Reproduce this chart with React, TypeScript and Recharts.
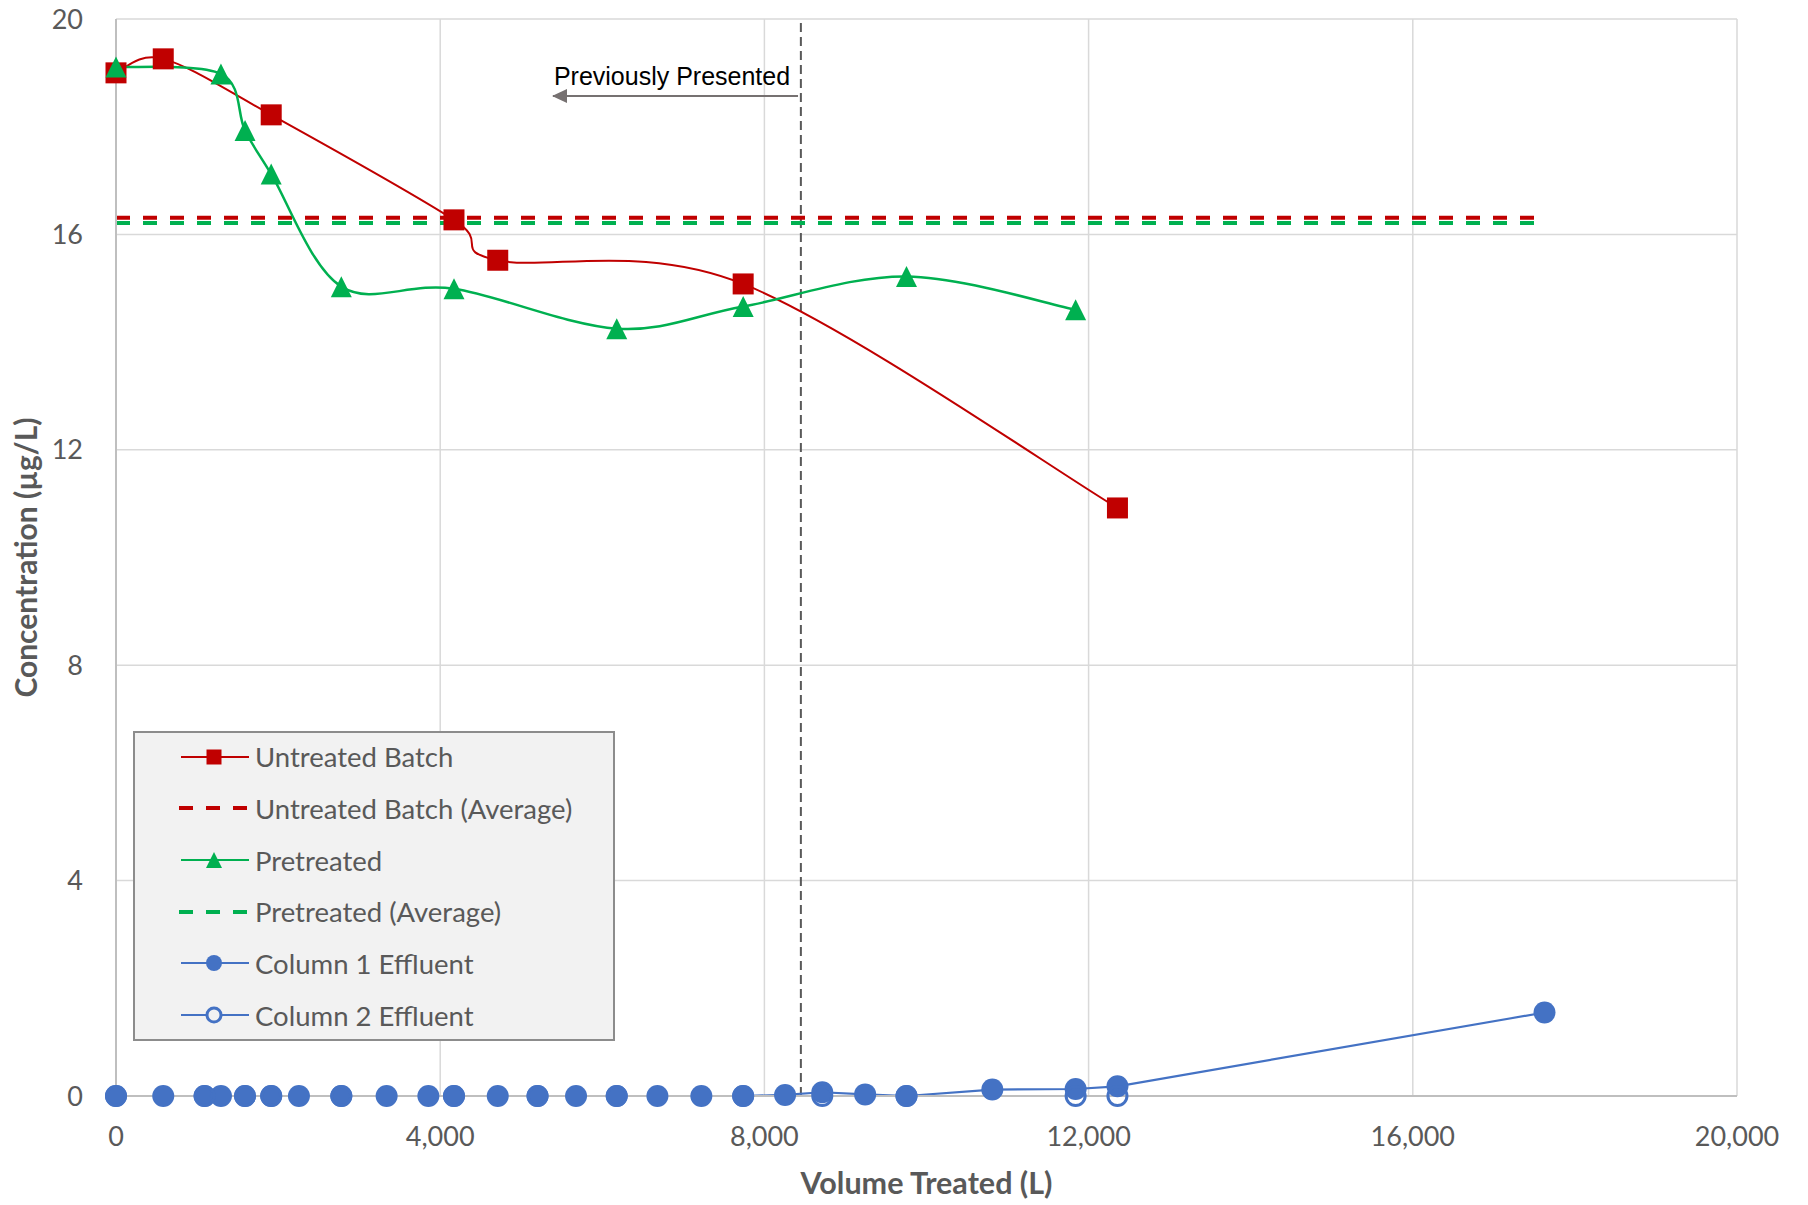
import React from "react"
import {
	ComposedChart,
	Line,
	XAxis,
	YAxis,
	CartesianGrid,
	ReferenceLine,
	ReferenceDot,
	Legend,
} from "recharts"

const RED = "#C00000"
const GREEN = "#00B050"
const BLUE = "#4472C4"
const TEXT = "#595959"
const GRID = "#D9D9D9"
const AXIS_LINE = "#BFBFBF"
const MARKER_GRAY = "#767171"
const FONT = "Lato, 'Noto Sans', sans-serif"

// volumes in L, concentrations in µg/L
const untreatedVolume = [0, 583, 1915, 4170, 4710, 7738, 12356]
const untreatedConc = [19.0, 19.26, 18.22, 16.27, 15.52, 15.08, 10.92]

const pretreatedVolume = [0, 1295, 1592, 1915, 2780, 4170, 6178, 7738, 9753, 11840]
const pretreatedConc = [19.11, 18.98, 17.93, 17.12, 15.03, 14.99, 14.25, 14.66, 15.22, 14.6]

const averageSpan = [0, 17625]
const untreatedAverage = 16.31
const pretreatedAverage = 16.21

const column1Volume = [
	0, 583, 1093, 1295, 1592, 1915, 2257, 2780, 3339, 3854, 4170, 4710, 5201, 5676, 6178, 6680, 7222, 7738,
	8255, 8714, 9243, 9753, 10812, 11840, 12356, 17625,
]
const column1Conc = [
	0, 0, 0, 0, 0, 0, 0, 0, 0, 0, 0, 0, 0, 0, 0, 0, 0, 0, 0.02, 0.07, 0.03, 0, 0.12, 0.13, 0.18, 1.55,
]

const column2Volume = [0, 1093, 1592, 1915, 2780, 4170, 5201, 6178, 7738, 8714, 9753, 11840, 12356]
const column2Conc = [0, 0, 0, 0, 0, 0, 0, 0, 0, 0, 0, 0, 0]

const xTicks = [0, 4000, 8000, 12000, 16000, 20000]
const yTicks = [0, 4, 8, 12, 16, 20]

// "Previously Presented" marker
const cutoffVolume = 8450
const arrowFrom = { x: 8415, y: 18.57 }
const arrowTo = { x: 5392, y: 18.57 }
const noteAt = { x: 6860, y: 18.77 }
const noteText = "Previously Presented"

type Marker = "square" | "triangle" | "circle" | "ring" | "none"
const legendLabels = [
	"Untreated Batch",
	"Untreated Batch (Average)",
	"Pretreated",
	"Pretreated (Average)",
	"Column 1 Effluent",
	"Column 2 Effluent",
]
const legendColors = [RED, RED, GREEN, GREEN, BLUE, BLUE]
const legendMarkers: Marker[] = ["square", "none", "triangle", "none", "circle", "ring"]

const pts = (xs: number[], ys: number[]) => xs.map((x, i) => ({ x, y: ys[i] }))
const flat = (xs: number[], v: number) => xs.map((x) => ({ x, y: v }))

// Excel-style smoothed line (Catmull-Rom as cubic Bezier)
function excelSmooth(context: any) {
	let p: number[][] = []
	return {
		areaStart() {},
		areaEnd() {},
		lineStart() {
			p = []
		},
		point(x: number, y: number) {
			p.push([+x, +y])
		},
		lineEnd() {
			const n = p.length
			if (!n) return
			context.moveTo(p[0][0], p[0][1])
			for (let i = 0; i < n - 1; i++) {
				const p0 = p[Math.max(i - 1, 0)]
				const p1 = p[i]
				const p2 = p[i + 1]
				const p3 = p[Math.min(i + 2, n - 1)]
				context.bezierCurveTo(
					p1[0] + (p2[0] - p0[0]) / 6,
					p1[1] + (p2[1] - p0[1]) / 6,
					p2[0] - (p3[0] - p1[0]) / 6,
					p2[1] - (p3[1] - p1[1]) / 6,
					p2[0],
					p2[1],
				)
			}
		},
	}
}

const squareDot = (s: number) => (p: any) =>
	<rect key={`sq-${p.index}`} x={p.cx - s / 2} y={p.cy - s / 2} width={s} height={s} fill={RED} />

const triangleDot = (s: number) => (p: any) => {
	const h = s / 2
	return (
		<polygon
			key={`tr-${p.index}`}
			points={`${p.cx},${p.cy - h} ${p.cx + h},${p.cy + h} ${p.cx - h},${p.cy + h}`}
			fill={GREEN}
		/>
	)
}

const circleDot = (r: number) => (p: any) => <circle key={`c-${p.index}`} cx={p.cx} cy={p.cy} r={r} fill={BLUE} />

const ringDot = (r: number) => (p: any) =>
	<circle key={`o-${p.index}`} cx={p.cx} cy={p.cy} r={r} fill="none" stroke={BLUE} strokeWidth={3} />

function MarkerIcon({ kind, color, dashed }: { kind: Marker; color: string; dashed: boolean }) {
	const c = 35
	const y = 12
	return (
		<svg width={72} height={24} style={{ display: "block" }}>
			{dashed ? (
				<line x1={0} y1={y} x2={70} y2={y} stroke={color} strokeWidth={4} strokeDasharray="14 13" />
			) : (
				<line x1={2} y1={y} x2={70} y2={y} stroke={color} strokeWidth={2} />
			)}
			{kind === "square" && <rect x={c - 7.5} y={y - 7.5} width={15} height={15} fill={color} />}
			{kind === "triangle" && (
				<polygon points={`${c},${y - 8} ${c + 8},${y + 8} ${c - 8},${y + 8}`} fill={color} />
			)}
			{kind === "circle" && <circle cx={c} cy={y} r={8} fill={color} />}
			{kind === "ring" && <circle cx={c} cy={y} r={7} fill="#F2F2F2" stroke={color} strokeWidth={3} />}
		</svg>
	)
}

function LegendBox() {
	return (
		<div
			style={{
				position: "relative",
				width: 482,
				height: 310,
				boxSizing: "border-box",
				border: "2px solid #8C8C8C",
				background: "#F2F2F2",
				fontFamily: FONT,
			}}
		>
			{legendLabels.map((label, i) => (
				<div
					key={label}
					style={{
						position: "absolute",
						left: 44,
						top: i * 51.65 - 2,
						height: 51.65,
						display: "flex",
						alignItems: "center",
						whiteSpace: "nowrap",
					}}
				>
					<MarkerIcon kind={legendMarkers[i]} color={legendColors[i]} dashed={legendMarkers[i] === "none"} />
					<span style={{ marginLeft: 4, fontSize: 27.5, color: TEXT }}>{label}</span>
				</div>
			))}
		</div>
	)
}

function YTitle({ viewBox }: any) {
	const x = viewBox.x + 37
	const y = viewBox.y + viewBox.height / 2
	return (
		<text
			x={x}
			y={y}
			transform={`rotate(-90 ${x} ${y})`}
			textAnchor="middle"
			fill={TEXT}
			fontFamily={FONT}
			fontWeight={700}
			fontSize={30}
		>
			Concentration (µg/L)
		</text>
	)
}

function XTitle({ viewBox }: any) {
	return (
		<text
			x={viewBox.x + viewBox.width / 2}
			y={viewBox.y + 98}
			textAnchor="middle"
			fill={TEXT}
			fontFamily={FONT}
			fontWeight={700}
			fontSize={30.5}
		>
			Volume Treated (L)
		</text>
	)
}

const TICK = { fill: TEXT, fontSize: 27, fontFamily: FONT }

export default function App() {
	return (
		<div style={{ position: "absolute", left: 0, top: 0, width: 1808, height: 1205, background: "#fff" }}>
			<ComposedChart width={1808} height={1205} margin={{ top: 19, right: 71, bottom: 0, left: 0 }}>
				<defs>
					<marker
						id="leftArrow"
						viewBox="0 0 15 14"
						refX={14}
						refY={7}
						markerWidth={15}
						markerHeight={14}
						markerUnits="userSpaceOnUse"
						orient="auto"
					>
						<path d="M0,0 L15,7 L0,14 z" fill={MARKER_GRAY} />
					</marker>
				</defs>
				<CartesianGrid stroke={GRID} strokeWidth={1.5} />
				<XAxis
					type="number"
					dataKey="x"
					domain={[0, 20000]}
					ticks={xTicks}
					tickFormatter={(v: number) => v.toLocaleString("en-US")}
					tick={TICK}
					tickLine={false}
					tickSize={0}
					tickMargin={31}
					axisLine={{ stroke: AXIS_LINE, strokeWidth: 2 }}
					height={109}
					interval={0}
					label={<XTitle />}
				/>
				<YAxis
					type="number"
					dataKey="y"
					domain={[0, 20]}
					ticks={yTicks}
					tick={TICK}
					tickLine={false}
					tickSize={0}
					tickMargin={33}
					axisLine={{ stroke: AXIS_LINE, strokeWidth: 2 }}
					width={116}
					interval={0}
					label={<YTitle />}
				/>
				<ReferenceLine x={cutoffVolume} stroke={TEXT} strokeWidth={2} strokeDasharray="9 5" />
				<ReferenceLine
					segment={[arrowFrom, arrowTo]}
					stroke={MARKER_GRAY}
					strokeWidth={2}
					shape={(p: any) => (
						<line
							x1={p.x1}
							y1={p.y1}
							x2={p.x2}
							y2={p.y2}
							stroke={MARKER_GRAY}
							strokeWidth={2}
							markerEnd="url(#leftArrow)"
						/>
					)}
				/>
				<ReferenceDot
					x={noteAt.x}
					y={noteAt.y}
					r={0}
					shape={(p: any) => (
						<text x={p.cx} y={p.cy} textAnchor="middle" fill="#000" fontFamily="'Liberation Sans', Arial" fontSize={25}>
							{noteText}
						</text>
					)}
				/>
				<Line
					data={pts(untreatedVolume, untreatedConc)}
					dataKey="y"
					type={excelSmooth as any}
					stroke={RED}
					strokeWidth={2}
					dot={squareDot(21)}
					activeDot={false}
					isAnimationActive={false}
				/>
				<Line
					data={flat(averageSpan, untreatedAverage)}
					dataKey="y"
					type="linear"
					stroke={RED}
					strokeWidth={4}
					strokeDasharray="14 13"
					dot={false}
					activeDot={false}
					isAnimationActive={false}
				/>
				<Line
					data={pts(pretreatedVolume, pretreatedConc)}
					dataKey="y"
					type={excelSmooth as any}
					stroke={GREEN}
					strokeWidth={2.5}
					dot={triangleDot(21)}
					activeDot={false}
					isAnimationActive={false}
				/>
				<Line
					data={flat(averageSpan, pretreatedAverage)}
					dataKey="y"
					type="linear"
					stroke={GREEN}
					strokeWidth={4}
					strokeDasharray="14 13"
					dot={false}
					activeDot={false}
					isAnimationActive={false}
				/>
				<Line
					data={pts(column1Volume, column1Conc)}
					dataKey="y"
					type="linear"
					stroke={BLUE}
					strokeWidth={2.2}
					dot={circleDot(11)}
					activeDot={false}
					isAnimationActive={false}
				/>
				<Line
					data={pts(column2Volume, column2Conc)}
					dataKey="y"
					type="linear"
					stroke={BLUE}
					strokeWidth={2.2}
					dot={ringDot(9.5)}
					activeDot={false}
					isAnimationActive={false}
				/>
				<Legend
					layout="vertical"
					align="center"
					verticalAlign="middle"
					content={() => <LegendBox />}
					wrapperStyle={{ left: 133, top: 731, bottom: "auto", width: 482, height: 310 }}
				/>
			</ComposedChart>
		</div>
	)
}
